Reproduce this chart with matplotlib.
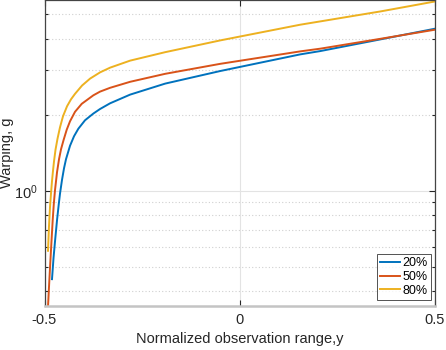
import matplotlib
matplotlib.use("Agg")
import matplotlib.pyplot as plt
from matplotlib.ticker import FixedLocator, NullFormatter

plt.rcParams['font.family'] = ['Liberation Sans', 'DejaVu Sans']
plt.rcParams['mathtext.fontset'] = 'custom'
plt.rcParams['mathtext.rm'] = 'Liberation Sans'
plt.rcParams['mathtext.it'] = 'Liberation Sans:italic'

# Data
x_20 = [-0.4808, -0.4769, -0.4723, -0.4679, -0.4636, -0.4603, -0.4551, -0.4500,
        -0.4449, -0.4346, -0.4244, -0.4133, -0.3962, -0.3749, -0.3577, -0.3321,
        -0.2808, -0.1910, -0.0500, 0.1551, 0.2064, 0.3603, 0.5000]
g_20 = [0.447, 0.542, 0.650, 0.766, 0.882, 0.975, 1.107, 1.229,
        1.335, 1.509, 1.645, 1.762, 1.903, 2.023, 2.109, 2.221,
        2.404, 2.658, 2.981, 3.470, 3.576, 3.978, 4.385]

x_50 = [-0.4910, -0.4885, -0.4859, -0.4826, -0.4790, -0.4762, -0.4731, -0.4679,
        -0.4628, -0.4577, -0.4513, -0.4431, -0.4346, -0.4218, -0.4046, -0.3749,
        -0.3577, -0.3321, -0.2808, -0.1910, -0.0500, 0.1551, 0.2064, 0.3603, 0.5000]
g_50 = [0.348, 0.416, 0.495, 0.612, 0.766, 0.886, 1.006, 1.186,
        1.335, 1.461, 1.586, 1.746, 1.886, 2.056, 2.211, 2.389,
        2.471, 2.558, 2.702, 2.906, 3.183, 3.566, 3.655, 3.999, 4.345]

x_80 = [-0.4910, -0.4885, -0.4859, -0.4833, -0.4808, -0.4782, -0.4756, -0.4718,
        -0.4667, -0.4603, -0.4526, -0.4423, -0.4321, -0.4218, -0.4038, -0.3833,
        -0.3577, -0.3321, -0.2808, -0.1910, -0.0500, 0.1551, 0.2064, 0.3603, 0.5000]
g_80 = [0.579, 0.725, 0.862, 0.979, 1.092, 1.202, 1.310, 1.455,
        1.608, 1.785, 1.974, 2.162, 2.304, 2.422, 2.612, 2.782,
        2.945, 3.074, 3.277, 3.540, 3.941, 4.548, 4.687, 5.132, 5.620]

labels = ['20%', '50%', '80%']
colors = ['#0072BD', '#D95319', '#EDB120']

x_ticks = [-0.5, 0, 0.5]
x_ticklabels = ['-0.5', '0', '0.5']
y_major = [1.0]
y_minor = [0.4, 0.5, 0.6, 0.7, 0.8, 0.9, 2, 3, 4, 5]

fig = plt.figure(figsize=(4.46, 3.5), dpi=100)
ax = fig.add_axes([44.5 / 446, 44 / 350, 390.5 / 446, 305.5 / 350])

for xs, gs, lab, c in zip([x_20, x_50, x_80], [g_20, g_50, g_80], labels, colors):
    ax.plot(xs, gs, color=c, lw=1.4, label=lab, solid_joinstyle='round')

ax.set_yscale('log')
ax.set_xlim(-0.5, 0.5)
ax.set_ylim(0.35, 5.67)

ax.xaxis.set_major_locator(FixedLocator(x_ticks))
ax.set_xticklabels(x_ticklabels)
ax.yaxis.set_major_locator(FixedLocator(y_major))
ax.yaxis.set_minor_locator(FixedLocator(y_minor))
ax.yaxis.set_minor_formatter(NullFormatter())
ax.set_yticklabels([r'$\mathdefault{10^{0}}$'])

ax.grid(True, which='major', color='#e3e3e3', lw=0.8, ls='-', zorder=0)
ax.grid(True, which='minor', axis='y', color='#d0d0d0', lw=0.8, ls=(0, (1, 2)), zorder=0)
ax.set_axisbelow(True)

ax.tick_params(which='both', direction='in', top=True, right=True,
               colors='#262626', labelsize=10.5, labelcolor='#262626')
ax.tick_params(which='major', length=4, width=0.8, pad=5)
ax.tick_params(which='minor', length=2.5, width=0.8)

for side in ['left', 'top', 'right']:
    ax.spines[side].set_color('#444444')
    ax.spines[side].set_linewidth(0.9)
ax.spines['bottom'].set_color('#c4c4c4')
ax.spines['bottom'].set_linewidth(1.8)

ax.set_xlabel('Normalized observation range,y', fontsize=10.5, color='#262626', labelpad=4)
ax.set_ylabel('Warping, g', fontsize=10.5, color='#262626', labelpad=0)

leg = ax.legend(loc='lower right', bbox_to_anchor=(0.99, 0.02), borderaxespad=0,
                fontsize=9, frameon=True, fancybox=False, handlelength=1.6,
                handletextpad=0.2, labelspacing=0.15, borderpad=0.25)
leg.get_frame().set_edgecolor('#262626')
leg.get_frame().set_linewidth(0.7)

fig.savefig('out.png', dpi=100)
